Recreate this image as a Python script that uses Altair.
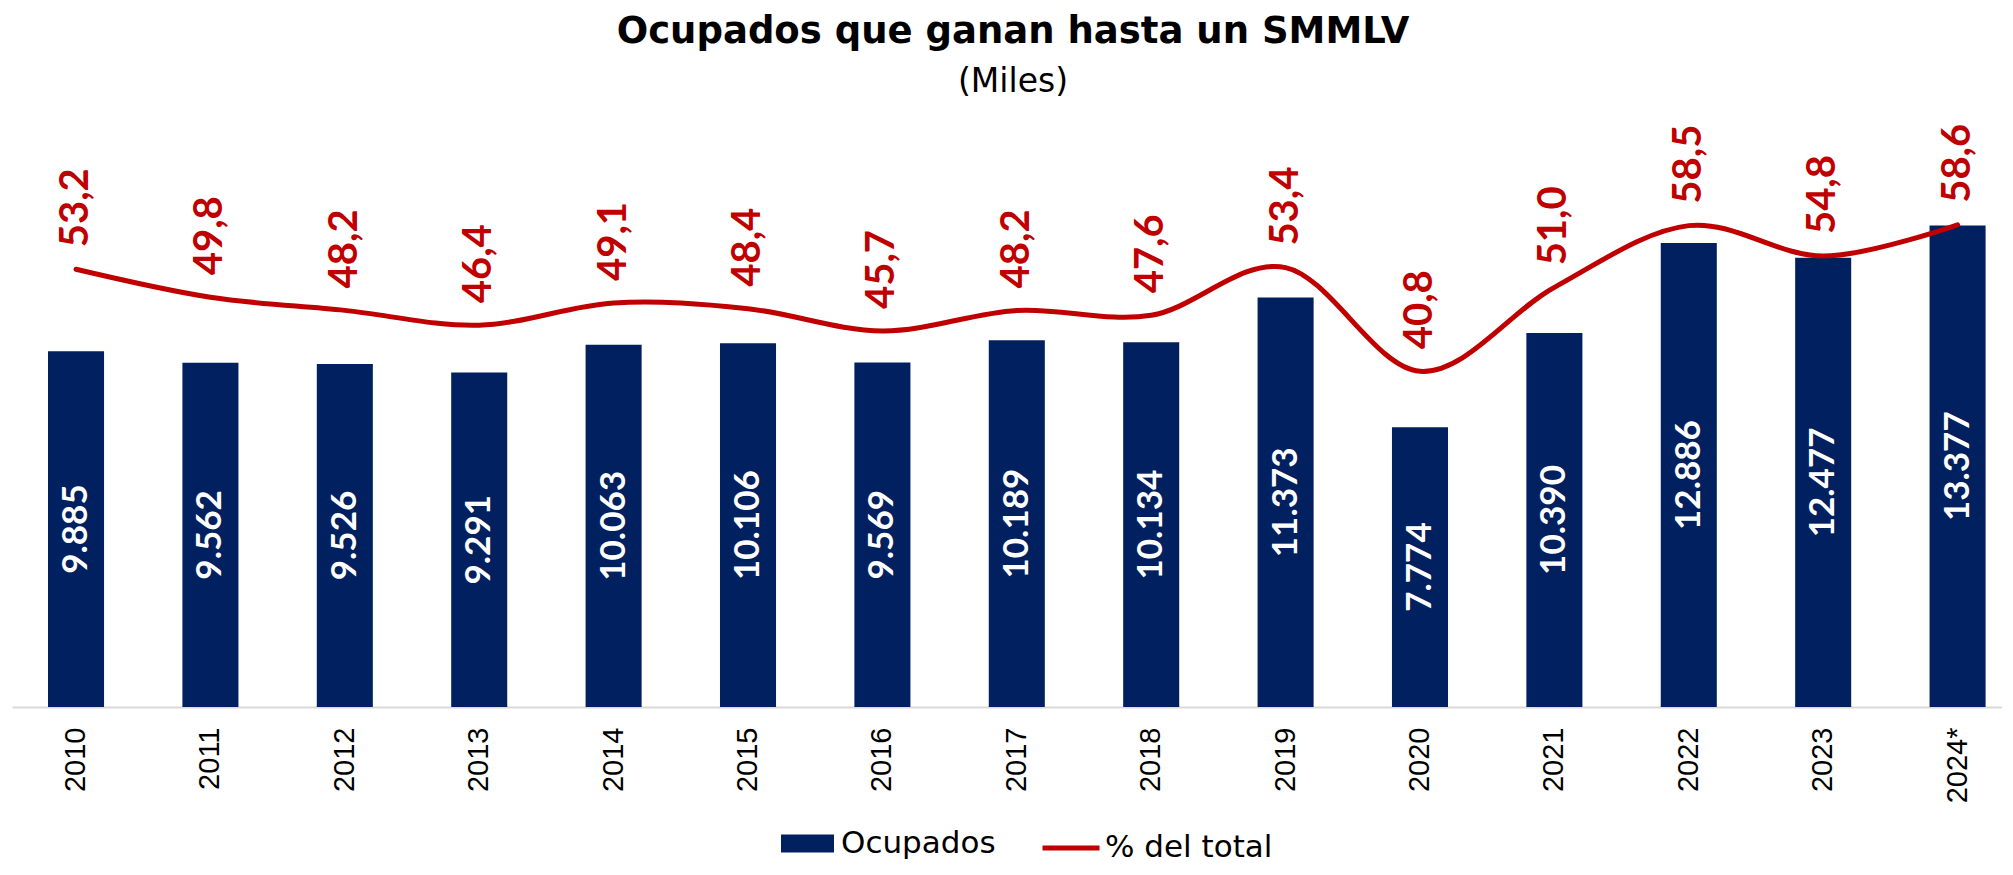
import altair as alt
import pandas as pd

anios = ["2010", "2011", "2012", "2013", "2014", "2015", "2016", "2017",
         "2018", "2019", "2020", "2021", "2022", "2023", "2024*"]
ocupados = [9885, 9562, 9526, 9291, 10063, 10106, 9569, 10189,
            10134, 11373, 7774, 10390, 12886, 12477, 13377]
porcentaje = [53.2, 49.8, 48.2, 46.4, 49.1, 48.4, 45.7, 48.2,
              47.6, 53.4, 40.8, 51.0, 58.5, 54.8, 58.6]

df = pd.DataFrame({"anio": anios, "ocupados": ocupados, "pct": porcentaje})

AZUL = "#002060"
ROJO = "#C00000"

x_enc = alt.X(
    "anio:N", sort=anios, title=None,
    scale=alt.Scale(paddingInner=0.583, paddingOuter=0.195, align=0.687),
    axis=alt.Axis(labelAngle=270, labelFont="Liberation Sans", labelFontSize=29,
                  labelColor="#000000", labelPadding=20, ticks=False,
                  domainColor="#D9D9D9", domainWidth=2, grid=False),
)

y_bar = alt.Scale(domain=[0, 16000], nice=False, zero=True)
y_pct = alt.Scale(domain=[0, 70], nice=False, zero=True)

base = alt.Chart(df)

barras = base.transform_calculate(serie="'Ocupados'").mark_bar().encode(
    x=x_enc,
    y=alt.Y("ocupados:Q", scale=y_bar, axis=None),
    color=alt.Color(
        "serie:N",
        scale=alt.Scale(domain=["Ocupados"], range=[AZUL]),
        legend=alt.Legend(orient="none", legendX=769, legendY=686, title=None,
                          symbolType="M-1,-0.34H1V0.34H-1Z", symbolSize=2809,
                          symbolStrokeWidth=0, labelFont="DejaVu Sans",
                          labelFontSize=31, labelColor="#000000", labelOffset=7,
                          labelLimit=500),
    ),
)

etq_barras = base.transform_calculate(
    mid="datum.ocupados / 2",
    lab="replace(format(datum.ocupados, ','), ',', '.')",
).mark_text(angle=270, align="center", baseline="middle", font="Lato",
            fontSize=35, fontWeight="bold", color="white").encode(
    x=x_enc,
    y=alt.Y("mid:Q", scale=y_bar, axis=None),
    text="lab:N",
)

linea = base.transform_calculate(serie2="'% del total'").mark_line(
    strokeWidth=5, interpolate="cardinal", strokeCap="round"
).encode(
    x=x_enc,
    y=alt.Y("pct:Q", scale=y_pct, axis=None),
    stroke=alt.Stroke(
        "serie2:N",
        scale=alt.Scale(domain=["% del total"], range=[ROJO]),
        legend=alt.Legend(orient="none", legendX=1028, legendY=686, title=None,
                          symbolType="stroke", symbolSize=3249,
                          symbolStrokeWidth=5, labelFont="DejaVu Sans",
                          labelFontSize=31, labelColor="#000000", labelOffset=3,
                          labelLimit=500),
    ),
)

etq_pct = base.transform_calculate(
    lab="replace(format(datum.pct, '.1f'), '.', ',')"
).mark_text(angle=270, align="left", baseline="middle", dx=22, font="Lato",
            fontSize=40, fontWeight="bold", color=ROJO).encode(
    x=x_enc,
    y=alt.Y("pct:Q", scale=y_pct, axis=None),
    text="lab:N",
)

chart = alt.layer(barras, etq_barras, linea, etq_pct).resolve_scale(
    y="independent"
).properties(
    width=1990,
    height=576,
    padding={"left": 4, "top": 123, "right": 0, "bottom": 160},
    autosize=alt.AutoSizeParams(type="none"),
    background="white",
    title=alt.Title(
        text="Ocupados que ganan hasta un SMMLV",
        subtitle="(Miles)",
        font="DejaVu Sans", fontSize=37, fontWeight="bold", color="#000000",
        subtitleFont="DejaVu Sans", subtitleFontSize=33, subtitleColor="#000000",
        anchor="middle", offset=24, subtitlePadding=15, dx=6,
    ),
).configure_view(stroke=None, strokeWidth=0)

chart.save("out.html", embed_options={"renderer": "svg", "actions": False})
